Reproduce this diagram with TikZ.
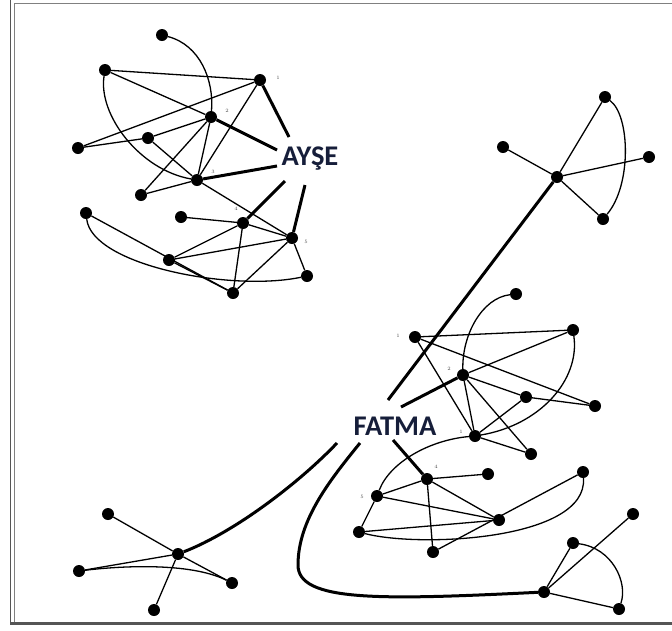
\documentclass[tikz,border=0pt]{standalone}
\usepackage{fontspec}
\newfontfamily\labfont{Carlito}
\definecolor{navy}{RGB}{22,30,58}
\definecolor{framegray}{RGB}{85,85,85}
\begin{document}
\begin{tikzpicture}[x=1pt,y=-1pt,
  dot/.style={circle,fill=black,inner sep=0pt,minimum size=12pt},
  edge/.style={line width=1.3pt,black},
  thickedge/.style={line width=3pt,black},
  bignum/.style={font=\labfont\bfseries\fontsize{28.5}{30}\selectfont,text=navy,inner sep=0pt},
  tinynum/.style={font=\fontsize{5}{6}\selectfont,text=black!70,inner sep=0pt}]
\useasboundingbox (0,0) rectangle (672,630);
% frame
\draw[framegray,line width=1.2pt] (10.5,0) -- (10.5,624);
\draw[gray,line width=1.6pt] (14.5,3) -- (14.5,623);
\draw[gray,line width=1.4pt] (14,3.5) -- (672,3.5);
\draw[framegray,line width=2.6pt] (10,623.5) -- (672,623.5);

% ---------- cluster A ----------
\node[dot] (a0) at (162,35) {};
\node[dot] (a1) at (105,70) {};
\node[dot] (a2) at (260,80) {};
\node[dot] (a3) at (211,117) {};
\node[dot] (a4) at (148,138) {};
\node[dot] (a5) at (78,148) {};
\node[dot] (a6) at (197,180) {};
\node[dot] (a7) at (141,195) {};
\node[dot] (a8) at (86,213) {};
\node[dot] (a9) at (181,217) {};
\node[dot] (a10) at (243,223) {};
\node[dot] (a11) at (292,238) {};
\node[dot] (a12) at (169,260) {};
\node[dot] (a13) at (233,293) {};
\node[dot] (a14) at (307,276) {};
\node[tinynum] (na1) at (278,78) {1};
\node[tinynum] (na2) at (227,111) {2};
\node[tinynum] (na3) at (213,172) {3};
\node[tinynum] (na4) at (236,209) {4};
\node[tinynum] (na5) at (306,242) {5};

\draw[edge] (a0) .. controls (200,45) and (214,80) .. (a3);
\draw[edge] (a1) -- (a2);
\draw[edge] (a1) -- (a3);
\draw[edge] (a1) .. controls (98,115) and (140,170) .. (a6);
\draw[edge] (a2) -- (a5);
\draw[edge] (a2) -- (a6);
\draw[edge] (a3) -- (a4);
\draw[edge] (a4) -- (a5);
\draw[edge] (a3) -- (a6);
\draw[edge] (a3) -- (a7);
\draw[edge] (a4) -- (a6);
\draw[edge] (a7) -- (a6);
\draw[edge] (a6) -- (a11);
\draw[edge] (a8) -- (a13);
\draw[edge] (a8) .. controls (92,265) and (230,292) .. (a14);
\draw[edge] (a9) -- (a10);
\draw[edge] (a10) -- (a11);
\draw[edge] (a10) -- (a12);
\draw[edge] (a10) -- (a13);
\draw[edge] (a11) -- (a12);
\draw[edge] (a11) -- (a13);
\draw[edge] (a11) -- (a14);
\draw[edge] (a12) -- (a13);

\node[bignum] (ayse) at (310,159) {AYŞE};
\coordinate (tA1) at (289,137);
\coordinate (tA2) at (277,150);
\coordinate (tA3) at (277,166);
\coordinate (tA4) at (285,181);
\coordinate (tA5) at (305,185);
\draw[thickedge] (a2) -- (tA1);
\draw[thickedge] (a3) -- (tA2);
\draw[thickedge] (a6) -- (tA3);
\draw[thickedge] (a10) -- (tA4);
\draw[thickedge] (a11) -- (tA5);

% ---------- cluster B ----------
\node[dot] (b0) at (557,177) {};
\node[dot] (b1) at (503,147) {};
\node[dot] (b2) at (605,97) {};
\node[dot] (b3) at (649,157) {};
\node[dot] (b4) at (603,219) {};
\draw[edge] (b0) -- (b1);
\draw[edge] (b0) -- (b2);
\draw[edge] (b0) -- (b3);
\draw[edge] (b0) -- (b4);
\draw[edge] (b2) .. controls (630,115) and (632,185) .. (b4);

% ---------- cluster C ----------
\node[dot] (c0) at (516,294) {};
\node[dot] (c1) at (415,337) {};
\node[dot] (c2) at (573,330) {};
\node[dot] (c3) at (463,375) {};
\node[dot] (c4) at (526,397) {};
\node[dot] (c5) at (595,406) {};
\node[dot] (c6) at (475,436) {};
\node[dot] (c7) at (531,454) {};
\node[dot] (c8) at (427,479) {};
\node[dot] (c9) at (488,474) {};
\node[dot] (c10) at (583,472) {};
\node[dot] (c11) at (377,496) {};
\node[dot] (c12) at (499,520) {};
\node[dot] (c13) at (359,532) {};
\node[dot] (c14) at (433,552) {};
\node[dot] (c15) at (544,592) {};
\node[dot] (c16) at (573,543) {};
\node[dot] (c17) at (633,514) {};
\node[dot] (c18) at (619,609) {};
\node[tinynum] (nc1) at (398,336) {1};
\node[tinynum] (nc2) at (449,369) {2};
\node[tinynum] (nc3) at (461,432) {1};
\node[tinynum] (nc4) at (436,467) {4};
\node[tinynum] (nc5) at (362,497) {5};

\draw[edge] (c0) .. controls (482,298) and (462,335) .. (c3);
\draw[edge] (c1) -- (c2);
\draw[edge] (c1) -- (c5);
\draw[edge] (c1) -- (c6);
\draw[edge] (c2) -- (c3);
\draw[edge] (c3) -- (c4);
\draw[edge] (c4) -- (c5);
\draw[edge] (c3) -- (c6);
\draw[edge] (c3) -- (c7);
\draw[edge] (c4) -- (c6);
\draw[edge] (c6) -- (c7);
\draw[edge] (c2) .. controls (580,380) and (540,425) .. (c6);
\draw[edge] (c6) .. controls (430,440) and (390,462) .. (c11);
\draw[edge] (c8) -- (c9);
\draw[edge] (c8) -- (c11);
\draw[edge] (c8) -- (c12);
\draw[edge] (c8) -- (c14);
\draw[edge] (c11) -- (c12);
\draw[edge] (c11) -- (c13);
\draw[edge] (c12) -- (c13);
\draw[edge] (c10) -- (c14);
\draw[edge] (c13) .. controls (420,548) and (588,540) .. (c10);
\draw[edge] (c15) -- (c16);
\draw[edge] (c15) -- (c17);
\draw[edge] (c15) -- (c18);
\draw[edge] (c16) .. controls (612,548) and (628,582) .. (c18);

\node[bignum] (fatma) at (395,426) {FATMA};
\coordinate (tF1) at (388,400);
\coordinate (tF2) at (401,407);
\coordinate (tF3) at (393,440);
\coordinate (tF4) at (360,443);
\coordinate (tF5) at (337,443);
\coordinate (k1) at (298,565);
\draw[thickedge] (b0) -- (tF1);
\draw[thickedge] (c3) -- (tF2);
\draw[thickedge] (c8) -- (tF3);
\draw[thickedge] (tF4) .. controls (330,480) and (298,520) .. (k1)
  .. controls (298,602) and (380,600) .. (c15);

% ---------- cluster E ----------
\node[dot] (e0) at (178,554) {};
\node[dot] (e1) at (108,514) {};
\node[dot] (e2) at (79,571) {};
\node[dot] (e3) at (232,583) {};
\node[dot] (e4) at (154,610) {};
\draw[edge] (e0) -- (e1);
\draw[edge] (e0) -- (e2);
\draw[edge] (e0) -- (e3);
\draw[edge] (e0) -- (e4);
\draw[edge] (e2) .. controls (120,566) and (190,562) .. (e3);
\draw[thickedge] (e0) .. controls (235,532) and (300,482) .. (tF5);
\end{tikzpicture}
\end{document}
